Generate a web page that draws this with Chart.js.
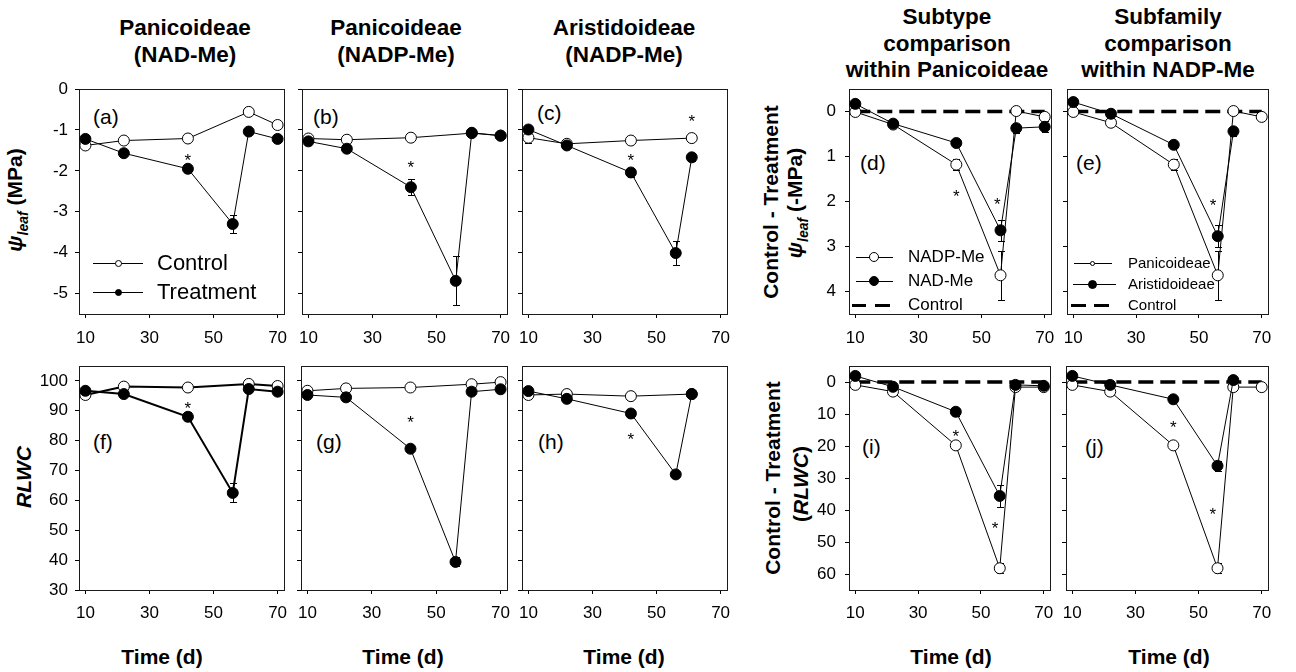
<!DOCTYPE html>
<html lang="en"><head><meta charset="utf-8"><title>Leaf water potential and RLWC</title>
<script src="https://cdn.jsdelivr.net/npm/chart.js@4.4.1/dist/chart.umd.min.js"></script>
<style>
html,body{margin:0;padding:0;background:#fff}
body{position:relative;width:1296px;height:672px;overflow:hidden;font-family:"Liberation Sans",Arial,Helvetica,sans-serif;color:#000}
canvas{position:absolute}
.ct{position:absolute;font-size:22.5px;font-weight:bold;text-align:center;white-space:nowrap;transform:translateX(-50%)}
.pl{position:absolute;font-size:21px;line-height:24px;white-space:nowrap}
.yt{position:absolute;font-size:21px;font-weight:bold;white-space:nowrap;line-height:24px;transform:translate(-50%,-50%) rotate(-90deg)}
.xt{position:absolute;font-size:21px;font-weight:bold;white-space:nowrap;line-height:24px;transform:translate(-50%,-50%)}
.lt{position:absolute;white-space:nowrap}
.lk{position:absolute;background:#000}
.mk{position:absolute;box-sizing:border-box;border:1px solid #000;border-radius:50%}
</style></head><body>

<div class="ct" style="left:185px;top:14px;line-height:27px">Panicoideae<br>(NAD-Me)</div>
<div class="ct" style="left:396px;top:14px;line-height:27px">Panicoideae<br>(NADP-Me)</div>
<div class="ct" style="left:624px;top:14px;line-height:27px">Aristidoideae<br>(NADP-Me)</div>
<div class="ct" style="left:947px;top:4px;line-height:26.5px">Subtype<br>comparison<br>within Panicoideae</div>
<div class="ct" style="left:1168px;top:4px;line-height:26.5px">Subfamily<br>comparison<br>within NADP-Me</div>

<div class="yt" style="left:19px;top:200px"><i>ψ</i><sub style="font-size:14px"><i>leaf</i></sub> (MPa)</div>
<div class="yt" style="left:24px;top:477px"><i>RLWC</i></div>
<div class="yt" style="left:771px;top:202px">Control - Treatment</div>
<div class="yt" style="left:799px;top:203px"><i>ψ</i><sub style="font-size:14px"><i>leaf</i></sub> (-MPa)</div>
<div class="yt" style="left:773px;top:478px">Control - Treatment</div>
<div class="yt" style="left:801px;top:484px">(<i>RLWC</i>)</div>

<div class="xt" style="left:162px;top:657px">Time (d)</div>
<div class="xt" style="left:403px;top:657px">Time (d)</div>
<div class="xt" style="left:624px;top:657px">Time (d)</div>
<div class="xt" style="left:951px;top:657px">Time (d)</div>
<div class="xt" style="left:1169px;top:657px">Time (d)</div>

<div class="pl" style="left:93px;top:105px">(a)</div>
<div class="pl" style="left:313px;top:105px">(b)</div>
<div class="pl" style="left:537px;top:101px">(c)</div>
<div class="pl" style="left:860px;top:151px">(d)</div>
<div class="pl" style="left:1076px;top:151px">(e)</div>
<div class="pl" style="left:93px;top:430px">(f)</div>
<div class="pl" style="left:316px;top:430px">(g)</div>
<div class="pl" style="left:538px;top:430px">(h)</div>
<div class="pl" style="left:862px;top:435px">(i)</div>
<div class="pl" style="left:1085px;top:435px">(j)</div>

<script>
const FONT = '"Liberation Sans", Arial, Helvetica, sans-serif';

// ---------- data ----------
const days = [10, 22, 42, 56, 61, 70];
const xTicks = [10, 30, 50, 70];
const psiTicks = [0, -1, -2, -3, -4, -5];
const diffPsiTicks = [0, 1, 2, 3, 4];
const rlwcTicks = [30, 40, 50, 60, 70, 80, 90, 100];
const diffRlwcTicks = [0, 10, 20, 30, 40, 50, 60];
const refDays = [10, 70];
const refValues = [0, 0];

// (a) Panicoideae NAD-Me, leaf water potential (MPa)
const aControl    = [-1.38, -1.26, -1.21, null, -0.56, -0.88];
const aControlErr = [0.05, 0.04, 0.04, null, 0.04, 0.05];
const aTreat      = [-1.22, -1.57, -1.95, -3.30, -1.04, -1.22];
const aTreatErr   = [0.05, 0.05, 0.08, 0.23, 0.05, 0.07];
const aStars      = [[42, -1.64]];
// (b) Panicoideae NADP-Me
const bControl    = [-1.21, -1.24, -1.19, null, -1.08, -1.14];
const bControlErr = [0.04, 0.04, 0.04, null, 0.03, 0.03];
const bTreat      = [-1.28, -1.46, -2.40, -4.69, -1.07, -1.14];
const bTreatErr   = [0.06, 0.06, 0.20, 0.60, 0.04, 0.03];
const bStars      = [[42, -1.82]];
// (c) Aristidoideae NADP-Me
const cControl    = [-1.19, -1.34, -1.26, null, -1.20, null];
const cControlErr = [0.12, 0.05, 0.07, null, 0.05, null];
const cTreat      = [-0.99, -1.38, -2.04, -4.01, -1.67, null];
const cTreatErr   = [0.03, 0.06, 0.10, 0.30, 0.10, null];
const cStars      = [[42, -1.65], [61, -0.69]];
// (d) Control - Treatment psi, subtypes within Panicoideae
const dNADP    = [0.01, 0.29, 1.18, 3.64, -0.01, 0.12];
const dNADPErr = [0.03, 0.05, 0.12, 0.55, 0.03, 0.03];
const dNAD     = [-0.17, 0.27, 0.70, 2.64, 0.37, 0.34];
const dNADErr  = [0.03, 0.05, 0.05, 0.23, 0.10, 0.12];
const dStars   = [[42, 1.80], [55, 1.97]];
// (e) Control - Treatment psi, subfamilies within NADP-Me
const ePan    = [0.01, 0.25, 1.18, 3.64, -0.01, 0.12];
const ePanErr = [0.03, 0.05, 0.12, 0.55, 0.03, 0.03];
const eAri    = [-0.21, 0.05, 0.74, 2.77, 0.44, null];
const eAriErr = [0.03, 0.04, 0.07, 0.24, 0.10, null];
const eStars  = [[54.5, 1.99]];
// (f) RLWC Panicoideae NAD-Me
const fControl    = [95.3, 98.1, 97.8, null, 99.0, 98.3];
const fControlErr = [0.5, 0.5, 0.5, null, 0.5, 0.5];
const fTreat      = [96.7, 95.6, 88.0, 62.5, 97.3, 96.4];
const fTreatErr   = [0.5, 0.5, 1.5, 3.2, 0.5, 0.5];
const fStars      = [[42, 92.3]];
// (g) RLWC Panicoideae NADP-Me
const gControl    = [96.7, 97.5, 97.8, null, 98.9, 99.6];
const gControlErr = [0.4, 0.4, 0.4, null, 0.4, 0.4];
const gTreat      = [95.3, 94.5, 77.3, 39.4, 96.4, 97.2];
const gTreatErr   = [0.5, 0.5, 1.0, 1.5, 0.5, 0.5];
const gStars      = [[42, 87.5]];
// (h) RLWC Aristidoideae NADP-Me
const hControl    = [95.3, 95.6, 94.9, null, 95.6, null];
const hControlErr = [0.5, 0.5, 0.5, null, 0.5, null];
const hTreat      = [96.6, 94.0, 89.1, 68.7, 95.6, null];
const hTreatErr   = [0.5, 0.5, 1.0, 1.0, 0.5, null];
const hStars      = [[42, 81.7]];
// (i) Control - Treatment RLWC, subtypes within Panicoideae
const iNADP    = [0.9, 3.0, 19.8, 58.2, 1.6, 1.6];
const iNADPErr = [0.5, 0.5, 1.0, 1.6, 0.5, 0.5];
const iNAD     = [-1.9, 1.5, 9.3, 35.6, 0.9, 1.2];
const iNADErr  = [0.5, 0.5, 1.2, 3.5, 0.5, 0.5];
const iStars   = [[42, 15.8], [54.5, 44.4]];
// (j) Control - Treatment RLWC, subfamilies within NADP-Me
const jPan    = [0.9, 3.0, 19.8, 58.2, 1.6, 1.6];
const jPanErr = [0.5, 0.5, 1.0, 1.6, 0.5, 0.5];
const jAri    = [-1.9, 0.9, 5.4, 26.2, -0.6, null];
const jAriErr = [0.5, 0.5, 1.0, 1.5, 0.5, null];
const jStars  = [[42, 12.9], [54.5, 40.2]];

// ---------- helpers ----------
Chart.defaults.font.family = FONT;

function pts(vals) {
  return days.map((d, i) => ({ x: d, y: vals[i] })).filter(p => p.y !== null && p.y !== undefined);
}
function errs(vals, e) {
  return days.map((d, i) => ({ x: d, y: vals[i], e: e ? e[i] : null }))
             .filter(p => p.y !== null && p.e !== null && p.e !== undefined);
}
function series(label, vals, err, filled, lw) {
  return {
    label, data: pts(vals), errors: errs(vals, err),
    borderColor: '#000', backgroundColor: filled ? '#000' : '#fff',
    borderWidth: lw || 1, pointRadius: 5.5, pointHoverRadius: 5.5,
    pointBackgroundColor: filled ? '#000' : '#fff', pointBorderColor: '#000', pointBorderWidth: 1,
    tension: 0, fill: false, clip: false, showLine: true
  };
}
function refLine() {
  return {
    label: 'Control', data: refDays.map((d, i) => ({ x: d, y: refValues[i] })),
    borderColor: '#000', borderWidth: 3.5, borderDash: [15, 7], borderCapStyle: 'butt',
    pointRadius: 0, pointHoverRadius: 0, fill: false, clip: false, tension: 0
  };
}
function decor(stars) {
  return {
    id: 'decor',
    beforeDatasetsDraw(chart) {
      const ctx = chart.ctx, a = chart.chartArea, xs = chart.scales.x, ys = chart.scales.y;
      ctx.save();
      ctx.strokeStyle = '#1a1a1a'; ctx.lineWidth = 1;
      ctx.strokeRect(Math.round(a.left) + 0.5, Math.round(a.top) + 0.5,
                     Math.round(a.right - a.left), Math.round(a.bottom - a.top));
      ctx.strokeStyle = '#000';
      chart.data.datasets.forEach(ds => {
        (ds.errors || []).forEach(p => {
          const px = Math.round(xs.getPixelForValue(p.x)) + 0.5;
          const y1 = Math.round(ys.getPixelForValue(p.y - p.e)) + 0.5;
          const y2 = Math.round(ys.getPixelForValue(p.y + p.e)) + 0.5;
          ctx.beginPath();
          ctx.moveTo(px, y1); ctx.lineTo(px, y2);
          ctx.moveTo(px - 3.5, y1); ctx.lineTo(px + 3.5, y1);
          ctx.moveTo(px - 3.5, y2); ctx.lineTo(px + 3.5, y2);
          ctx.stroke();
        });
      });
      ctx.restore();
    },
    afterDatasetsDraw(chart) {
      const ctx = chart.ctx, xs = chart.scales.x, ys = chart.scales.y;
      ctx.save();
      ctx.fillStyle = '#000'; ctx.font = '17px ' + FONT;
      ctx.textAlign = 'center'; ctx.textBaseline = 'alphabetic';
      (stars || []).forEach(s => {
        ctx.fillText('*', xs.getPixelForValue(s[0]), ys.getPixelForValue(s[1]) + 9.7);
      });
      ctx.restore();
    }
  };
}
function gridOpts() {
  return { display: true, drawOnChartArea: false, drawTicks: true, tickLength: 4,
           color: '#000', tickColor: '#000', lineWidth: 1 };
}
function makePanel(rect, ycfg, datasets, stars, xPad) {
  const padL = 60, padT = 32, padR = 34, padB = 44;
  const cv = document.createElement('canvas');
  cv.width = rect.W + padL + padR; cv.height = rect.H + padT + padB;
  cv.style.left = (rect.L - padL) + 'px'; cv.style.top = (rect.T - padT) + 'px';
  cv.style.width = cv.width + 'px'; cv.style.height = cv.height + 'px';
  document.body.appendChild(cv);
  new Chart(cv.getContext('2d'), {
    type: 'line',
    data: { datasets },
    options: {
      responsive: false, animation: false, devicePixelRatio: 1, events: [],
      layout: { padding: { left: 0, top: padT, right: padR, bottom: 0 } },
      plugins: { legend: { display: false }, tooltip: { enabled: false } },
      scales: {
        x: {
          type: 'linear', min: 8, max: 72,
          afterBuildTicks: s => { s.ticks = xTicks.map(v => ({ value: v })); },
          afterFit: s => { s.height = padB; },
          ticks: { color: '#000', font: { family: FONT, size: 17 }, padding: xPad, maxRotation: 0, autoSkip: false },
          grid: gridOpts(), border: { display: false }
        },
        y: {
          type: 'linear', min: ycfg.min, max: ycfg.max, reverse: !!ycfg.reverse,
          afterBuildTicks: s => { s.ticks = ycfg.ticks.map(v => ({ value: v })); },
          afterFit: s => { s.width = padL; },
          ticks: { display: ycfg.labels, color: '#000', font: { family: FONT, size: 17 }, padding: ycfg.pad },
          grid: gridOpts(), border: { display: false }
        }
      }
    },
    plugins: [decor(stars)]
  });
}

// ---------- panels ----------
const yPsi = lab => ({ min: -5.5, max: 0, ticks: psiTicks, labels: lab, pad: 7 });
const yDPsi = lab => ({ min: -0.5, max: 4.5, reverse: true, ticks: diffPsiTicks, labels: lab, pad: 9 });
const yRl = lab => ({ min: 30, max: 105, ticks: rlwcTicks, labels: lab, pad: 7 });
const yDRl = lab => ({ min: -5, max: 65, reverse: true, ticks: diffRlwcTicks, labels: lab, pad: 9 });

makePanel({ L: 79, T: 89, W: 205, H: 225 }, yPsi(true),
  [series('Treatment', aTreat, aTreatErr, true), series('Control', aControl, aControlErr, false)], aStars, 10);
makePanel({ L: 302, T: 89, W: 205, H: 225 }, yPsi(false),
  [series('Treatment', bTreat, bTreatErr, true), series('Control', bControl, bControlErr, false)], bStars, 10);
makePanel({ L: 522, T: 89, W: 205, H: 225 }, yPsi(false),
  [series('Treatment', cTreat, cTreatErr, true), series('Control', cControl, cControlErr, false)], cStars, 10);
makePanel({ L: 849, T: 89, W: 202, H: 225 }, yDPsi(true),
  [series('NAD-Me', dNAD, dNADErr, true), series('NADP-Me', dNADP, dNADPErr, false), refLine()], dStars, 10);
makePanel({ L: 1067, T: 89, W: 201, H: 225 }, yDPsi(false),
  [series('Aristidoideae', eAri, eAriErr, true), series('Panicoideae', ePan, ePanErr, false), refLine()], eStars, 10);

makePanel({ L: 79, T: 366, W: 205, H: 224 }, yRl(true),
  [series('Treatment', fTreat, fTreatErr, true, 2), series('Control', fControl, fControlErr, false, 2)], fStars, 9);
makePanel({ L: 301, T: 366, W: 206, H: 224 }, yRl(false),
  [series('Treatment', gTreat, gTreatErr, true), series('Control', gControl, gControlErr, false)], gStars, 9);
makePanel({ L: 522, T: 366, W: 205, H: 224 }, yRl(false),
  [series('Treatment', hTreat, hTreatErr, true), series('Control', hControl, hControlErr, false)], hStars, 9);
makePanel({ L: 849, T: 366, W: 201, H: 224 }, yDRl(true),
  [series('NAD-Me', iNAD, iNADErr, true), series('NADP-Me', iNADP, iNADPErr, false), refLine()], iStars, 9);
makePanel({ L: 1066, T: 366, W: 202, H: 224 }, yDRl(false),
  [series('Aristidoideae', jAri, jAriErr, true), series('Panicoideae', jPan, jPanErr, false), refLine()], jStars, 9);

// ---------- legends (HTML) ----------
function el(cls, css, text) {
  const d = document.createElement('div');
  d.className = cls; d.style.cssText = css;
  if (text) d.textContent = text;
  document.body.appendChild(d);
}
function keyLine(x1, x2, y, mx, r, filled, text, tx, fs) {
  el('lk', `left:${x1}px;top:${y - 0.5}px;width:${x2 - x1}px;height:1px`);
  el('mk', `left:${mx - r}px;top:${y - r}px;width:${2 * r}px;height:${2 * r}px;background:${filled ? '#000' : '#fff'}`);
  el('lt', `left:${tx}px;top:${y - fs * 0.6}px;font-size:${fs}px;line-height:${fs * 1.2}px`, text);
}
function keyDash(segs, y, text, tx, fs) {
  segs.forEach(s => el('lk', `left:${s[0]}px;top:${y - 1.5}px;width:${s[1] - s[0]}px;height:3px`));
  el('lt', `left:${tx}px;top:${y - fs * 0.6}px;font-size:${fs}px;line-height:${fs * 1.2}px`, text);
}
// (a)
keyLine(93, 143, 263, 118, 3.5, false, 'Control', 157, 22);
keyLine(93, 143, 292, 118, 3.5, true, 'Treatment', 157, 22);
// (d)
keyLine(856, 893, 257, 874, 5, false, 'NADP-Me', 908, 17);
keyLine(856, 893, 281, 874, 5, true, 'NAD-Me', 908, 17);
keyDash([[852, 866], [875, 890]], 305, 'Control', 908, 17);
// (e)
keyLine(1074, 1112, 263, 1092, 2.5, false, 'Panicoideae', 1128, 15);
keyLine(1073, 1116, 284, 1092, 4.5, true, 'Aristidoideae', 1128, 15);
keyDash([[1071, 1086], [1094, 1109]], 305, 'Control', 1128, 15);
</script>
</body></html>
